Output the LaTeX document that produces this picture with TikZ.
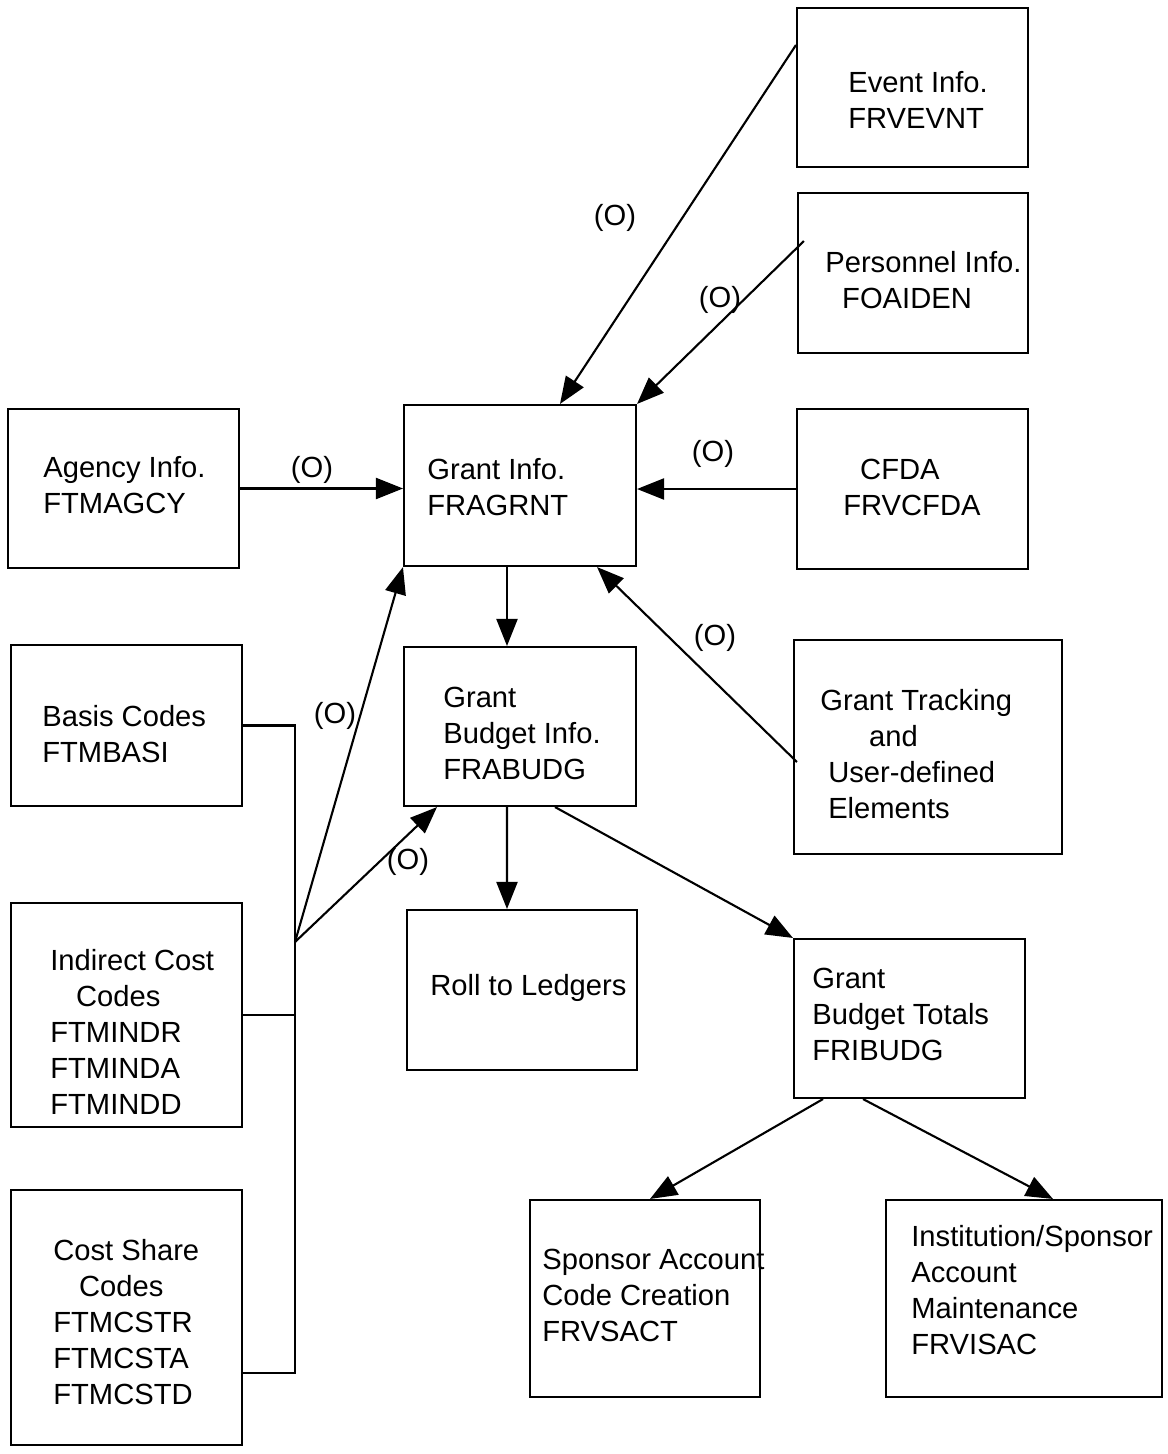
\documentclass[tikz,border=0pt]{standalone}
\usepackage{fontspec}
\setmainfont{Liberation Sans}
\usetikzlibrary{arrows.meta}
\tikzset{box/.style={draw, line width=1.2pt, inner sep=0pt},
  txt/.style={anchor=base west, align=left, inner sep=0pt},
  lbl/.style={inner sep=0pt},
  link/.style={line width=1.2pt, -{Triangle[length=0.54cm, width=0.42cm]}},
  bar/.style={line width=1.2pt}}

\begin{document}
\begin{tikzpicture}[x=0.02cm, y=-0.02cm, font=\fontsize{16.6}{20.4}\selectfont]
\useasboundingbox (0,0) rectangle (1168,1454);
% boxes
\node[box, minimum width=4.62cm, minimum height=3.18cm] (event) at (912.5,87.5) {};
\node[box, minimum width=4.6cm, minimum height=3.2cm] (pers) at (913,273) {};
\node[box, minimum width=4.64cm, minimum height=3.22cm] (grant) at (520,485.5) {};
\node[box, minimum width=4.62cm, minimum height=3.18cm] (agency) at (123.5,488.5) {};
\node[box, minimum width=4.62cm, minimum height=3.2cm] (cfda) at (912.5,489) {};
\node[box, minimum width=4.62cm, minimum height=3.22cm] (basis) at (126.5,725.5) {};
\node[box, minimum width=4.64cm, minimum height=3.18cm] (budget) at (520,726.5) {};
\node[box, minimum width=5.36cm, minimum height=4.28cm] (track) at (928,747) {};
\node[box, minimum width=4.62cm, minimum height=4.48cm] (indir) at (126.5,1015) {};
\node[box, minimum width=4.62cm, minimum height=5.1cm] (cshare) at (126.5,1317.5) {};
\node[box, minimum width=4.6cm, minimum height=3.2cm] (roll) at (522,990) {};
\node[box, minimum width=4.62cm, minimum height=3.18cm] (totals) at (909.5,1018.5) {};
\node[box, minimum width=4.6cm, minimum height=3.94cm] (spons) at (645,1298.5) {};
\node[box, minimum width=5.52cm, minimum height=3.94cm] (inst) at (1024,1298.5) {};

% texts (placed at the baseline of their last line)
\node[txt] (eventT) at (848,128) {Event Info.\\FRVEVNT};
\node[txt] (persT) at (825,308) {Personnel Info.\\\hspace*{9.6pt}FOAIDEN};
\node[txt] (grantT) at (427,515) {Grant Info.\\FRAGRNT};
\node[txt] (agencyT) at (43,513) {Agency Info.\\FTMAGCY};
\node[txt] (cfdaT) at (843,515) {\hspace*{9.6pt}CFDA\\FRVCFDA};
\node[txt] (basisT) at (42,762) {Basis Codes\\FTMBASI};
\node[txt] (budgetT) at (443,779) {Grant\\Budget Info.\\FRABUDG};
\node[txt] (trackT) at (820,818) {Grant Tracking\\\hspace*{27.8pt}and\\\hspace*{4.5pt}User-defined\\\hspace*{4.5pt}Elements};
\node[txt] (indirT) at (50,1114) {Indirect Cost\\\hspace*{14.7pt}Codes\\FTMINDR\\FTMINDA\\FTMINDD};
\node[txt] (cshareT) at (53,1404) {Cost Share\\\hspace*{14.7pt}Codes\\FTMCSTR\\FTMCSTA\\FTMCSTD};
\node[txt] (rollT) at (430,995) {Roll to Ledgers};
\node[txt] (totalsT) at (812,1060) {Grant\\Budget Totals\\FRIBUDG};
\node[txt] (sponsT) at (542,1341) {Sponsor Account\\Code Creation\\FRVSACT};
\node[txt] (instT) at (911,1354) {Institution/Sponsor\\Account\\Maintenance\\FRVISAC};

% connectors
\draw[link] ([yshift=0.85cm]event.west) -- ([xshift=0.8cm]grant.north);
\draw[link] ([xshift=0.14cm, yshift=0.64cm]pers.west) -- (grant.north east);
\draw[link] (cfda.west) -- (cfda.west -| grant.east);
\draw[link] (agency.east) -- (agency.east -| grant.west);
\draw[link] ([xshift=-0.26cm]grant.south) -- ([xshift=-0.26cm]budget.north);
\draw[link] ([xshift=0.08cm, yshift=-0.3cm]track.west) -- ([xshift=-0.8cm]grant.south east);
\draw[link] ([xshift=-0.26cm]budget.south) -- ([xshift=-0.3cm]roll.north);
\draw[link] ([xshift=0.7cm]budget.south) -- (totals.north west);
\draw[link] ([xshift=-1.73cm]totals.south) -- ([xshift=0.1cm]spons.north);
\draw[link] ([xshift=-0.93cm]totals.south) -- ([xshift=0.58cm]inst.north);

% bracket for the code tables
\coordinate (join) at (295,942);
\draw[bar] (basis.east) -| (join) |- ([yshift=-1.11cm]cshare.east);
\draw[bar] (indir.east) -- (indir.east -| join);
\draw[link] (join) -- (grant.south west);
\draw[link] (join) -- ([xshift=-1.66cm]budget.south);

% labels
\node[lbl] (oEvent) at (615,218) {(O)};
\node[lbl] (oPers) at (720,300) {(O)};
\node[lbl] (oCfda) at (713,454) {(O)};
\node[lbl] (oAgency) at (312,470) {(O)};
\node[lbl] (oTrack) at (715,638) {(O)};
\node[lbl] (oCodes) at (335,716) {(O)};
\node[lbl] (oBudget) at (408,862) {(O)};
\end{tikzpicture}
\end{document}
